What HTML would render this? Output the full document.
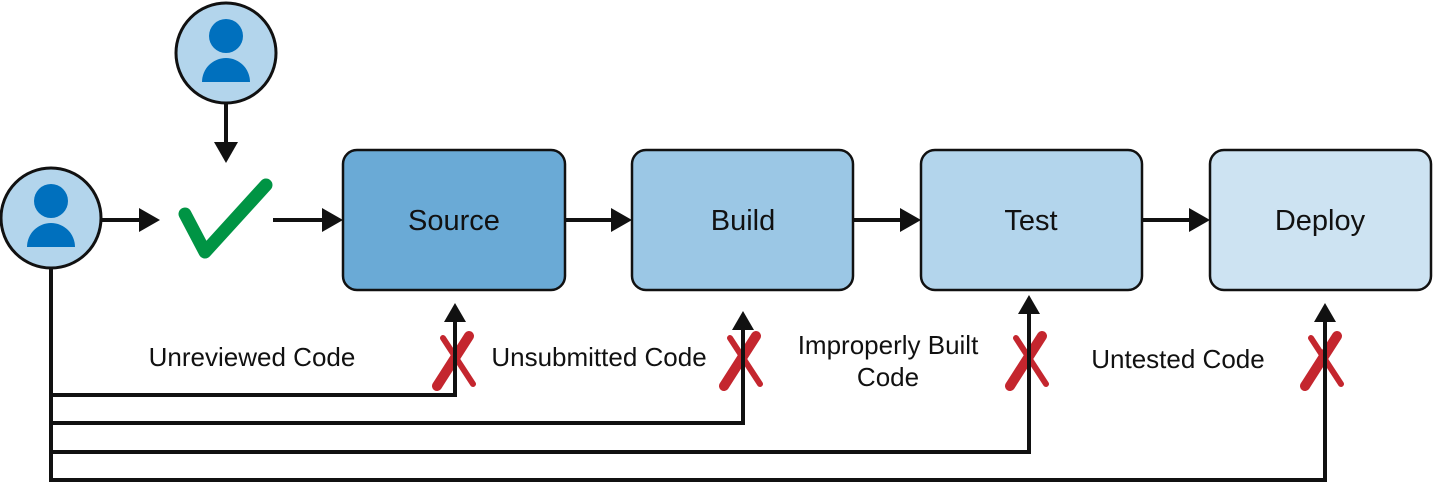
<!DOCTYPE html>
<html><head><meta charset="utf-8"><style>
body{margin:0;background:#fff;}
svg text{font-family:"Liberation Sans Narrow","Liberation Sans",sans-serif;fill:#111;}
</style></head><body>
<svg width="1440" height="488" viewBox="0 0 1440 488" xmlns="http://www.w3.org/2000/svg">
<defs>
<g id="person">
<circle r="50" fill="#b3d5ec" stroke="#111" stroke-width="3"/>
<circle cx="0" cy="-17" r="17" fill="#0070be"/>
<path d="M-24,29 A24,24 0 0 1 24,29 Z" fill="#0070be"/>
</g>
<g id="x"><path d="M-18,26 L14,-24" stroke="#c4262e" stroke-width="10" stroke-linecap="round"/><path d="M-12,-22 L18,24" stroke="#c4262e" stroke-width="6" stroke-linecap="round"/></g>
</defs>
<use href="#person" x="226" y="53"/>
<use href="#person" x="51" y="218"/>
<g stroke="#111" stroke-width="4" fill="none">
<line x1="226" y1="104" x2="226" y2="145"/>
<line x1="101" y1="220" x2="140" y2="220"/>
<line x1="273" y1="220" x2="322" y2="220"/>
<line x1="565" y1="220" x2="612" y2="220"/>
<line x1="853" y1="220" x2="900" y2="220"/>
<line x1="1142" y1="220" x2="1190" y2="220"/>
<polyline points="51,268 51,480 1325,480 1325,320"/>
<polyline points="51,395 455,395 455,320"/>
<polyline points="51,423 743,423 743,328"/>
<polyline points="51,452 1029,452 1029,312"/>
</g>
<g fill="#111">
<polygon points="214,142 238,142 226,163"/>
<polygon points="139,208 139,232 160,220"/>
<polygon points="322,208 322,232 343,220"/>
<polygon points="611,208 611,232 632,220"/>
<polygon points="900,208 900,232 921,220"/>
<polygon points="1189,208 1189,232 1210,220"/>
<polygon points="444,322 466,322 455,303"/>
<polygon points="732,330 754,330 743,311"/>
<polygon points="1018,314 1040,314 1029,295"/>
<polygon points="1314,322 1336,322 1325,303"/>
</g>
<path d="M185,214 L205,252 L266,185" stroke="#009444" stroke-width="13" fill="none" stroke-linecap="round" stroke-linejoin="round"/>
<rect x="343" y="150" width="222" height="140" rx="14" fill="#6aaad6" stroke="#111" stroke-width="2.5"/>
<rect x="632" y="150" width="221" height="140" rx="14" fill="#9bc7e5" stroke="#111" stroke-width="2.5"/>
<rect x="921" y="150" width="221" height="140" rx="14" fill="#b3d5ec" stroke="#111" stroke-width="2.5"/>
<rect x="1210" y="150" width="221" height="140" rx="14" fill="#cde3f2" stroke="#111" stroke-width="2.5"/>
<g font-size="29" text-anchor="middle">
<text x="454" y="230">Source</text>
<text x="743" y="230">Build</text>
<text x="1031" y="230">Test</text>
<text x="1320" y="230">Deploy</text>
</g>
<use href="#x" x="455" y="360"/>
<use href="#x" x="742" y="360"/>
<use href="#x" x="1028" y="360"/>
<use href="#x" x="1323" y="360"/>
<g stroke="#111" stroke-width="4"><line x1="455" y1="320" x2="455" y2="395"/><line x1="743" y1="328" x2="743" y2="423"/><line x1="1029" y1="312" x2="1029" y2="452"/><line x1="1325" y1="320" x2="1325" y2="480"/></g>
<g font-size="26" text-anchor="middle">
<text x="252" y="366">Unreviewed Code</text>
<text x="599" y="366">Unsubmitted Code</text>
<text x="888" y="354">Improperly Built</text>
<text x="888" y="386">Code</text>
<text x="1178" y="368">Untested Code</text>
</g>
</svg>
</body></html>
